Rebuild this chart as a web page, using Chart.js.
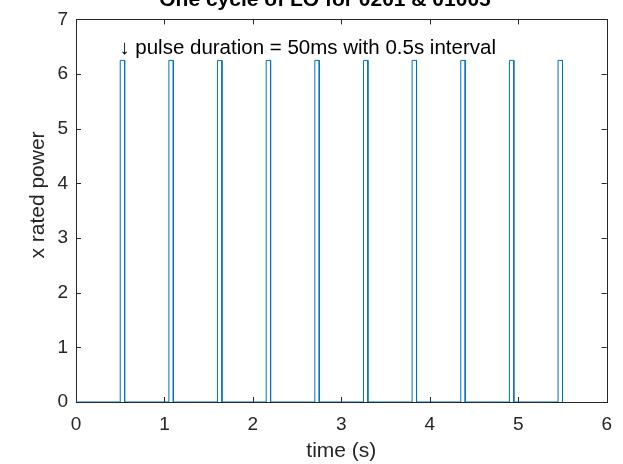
<!DOCTYPE html>
<html>
<head>
<meta charset="utf-8">
<script src="https://cdn.jsdelivr.net/npm/chart.js@4"></script>
<style>
  html, body { margin: 0; padding: 0; background: #fff; }
  #wrap { width: 623px; height: 464px; position: relative; }
</style>
</head>
<body>
<div id="wrap"><canvas id="myChart" width="623" height="464"></canvas></div>
<script>
// pulse data
const pulseStarts = [0.5, 1.05, 1.6, 2.15, 2.7, 3.25, 3.8, 4.35, 4.9, 5.45];
const pulseWidth = 0.05;     // 50 ms
const pulseHeight = 6.25;    // x rated power
const xTicks = [0, 1, 2, 3, 4, 5, 6];
const yTicks = [0, 1, 2, 3, 4, 5, 6, 7];
const titleText = 'One cycle of LO for 0201 & 01005';
const yLabel = 'x rated power';
const noteText = '\u2193 pulse duration = 50ms with 0.5s interval';

// square wave points
const points = [{ x: 0, y: 0 }];
pulseStarts.forEach(t => {
    points.push({ x: t, y: 0 });
    points.push({ x: t, y: pulseHeight });
    points.push({ x: t + pulseWidth, y: pulseHeight });
    points.push({ x: t + pulseWidth, y: 0 });
});

const FONT = '"Liberation Sans", Arial, sans-serif';
const AXIS = '#262626';

// MATLAB-like box with inward ticks (under the line), title and text note on top
const boxPlugin = {
    id: 'box',
    beforeDatasetsDraw(chart) {
        const { ctx, chartArea: a, scales } = chart;
        const xs = scales.x, ys = scales.y;
        ctx.save();
        ctx.strokeStyle = AXIS;
        ctx.lineWidth = 1;
        ctx.strokeRect(Math.round(a.left) + 0.5, Math.round(a.top) + 0.5,
            Math.round(a.right - a.left), Math.round(a.bottom - a.top));
        ctx.beginPath();
        xTicks.forEach(v => {
            const px = Math.round(xs.getPixelForValue(v)) + 0.5;
            ctx.moveTo(px, a.bottom); ctx.lineTo(px, a.bottom - 5);
            ctx.moveTo(px, a.top); ctx.lineTo(px, a.top + 5);
        });
        yTicks.forEach(v => {
            const py = Math.round(ys.getPixelForValue(v)) + 0.5;
            ctx.moveTo(a.left, py); ctx.lineTo(a.left + 5, py);
            ctx.moveTo(a.right, py); ctx.lineTo(a.right - 5, py);
        });
        ctx.stroke();
        ctx.restore();
    },
    afterDraw(chart) {
        const { ctx, scales } = chart;
        const xs = scales.x, ys = scales.y;
        ctx.save();
        ctx.fillStyle = '#000';
        ctx.font = '20.5px ' + FONT;
        ctx.textAlign = 'left';
        ctx.textBaseline = 'alphabetic';
        ctx.fillText(noteText, xs.getPixelForValue(0.49), ys.getPixelForValue(6.36));

        ctx.font = 'bold 21px ' + FONT;
        ctx.textAlign = 'center';
        ctx.fillText(titleText, 325, 6);

        // y label sits a bit above the axis middle in the original
        ctx.fillStyle = AXIS;
        ctx.font = '21px ' + FONT;
        ctx.textBaseline = 'middle';
        ctx.translate(38, 195);
        ctx.rotate(-Math.PI / 2);
        ctx.fillText(yLabel, 0, 0);
        ctx.restore();
    }
};

const ctx = document.getElementById('myChart').getContext('2d');
const myChart = new Chart(ctx, {
    type: 'scatter',
    data: {
        datasets: [{
            data: points,
            showLine: true,
            borderColor: '#0072BD',
            borderWidth: 1,
            pointRadius: 0,
            tension: 0
        }]
    },
    options: {
        responsive: false,
        animation: false,
        layout: { padding: { top: 16, right: 13, left: 0, bottom: 0 } },
        plugins: {
            legend: { display: false },
            tooltip: { enabled: false }
        },
        scales: {
            x: {
                type: 'linear',
                min: 0, max: 6,
                afterBuildTicks: s => { s.ticks = xTicks.map(v => ({ value: v })); },
                afterFit: s => { s.height = 62; },
                grid: { display: false, drawTicks: false },
                border: { display: false },
                ticks: { color: AXIS, font: { family: FONT, size: 19 }, padding: 11, maxRotation: 0 },
                title: { display: true, text: 'time (s)', color: AXIS, font: { family: FONT, size: 21 }, padding: { top: 0, bottom: 0 } }
            },
            y: {
                type: 'linear',
                min: 0, max: 7,
                afterBuildTicks: s => { s.ticks = yTicks.map(v => ({ value: v })); },
                afterFit: s => { s.width = 76; },
                grid: { display: false, drawTicks: false },
                border: { display: false },
                ticks: { color: AXIS, font: { family: FONT, size: 19 }, padding: 8 },
                title: { display: false }
            }
        }
    },
    plugins: [boxPlugin]
});
</script>
</body>
</html>
